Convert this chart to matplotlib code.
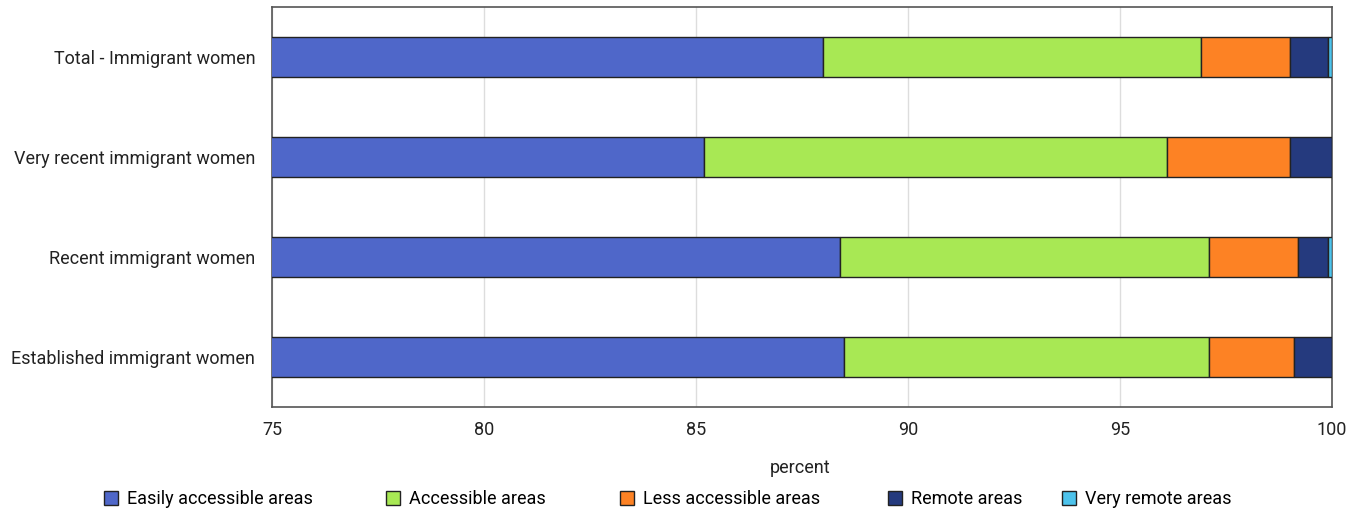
import matplotlib.pyplot as plt
import numpy as np

# --- DATA ---
categories = ["Total - Immigrant women", "Very recent immigrant women",
              "Recent immigrant women", "Established immigrant women"]
series_names = ["Easily accessible areas", "Accessible areas", "Less accessible areas",
                "Remote areas", "Very remote areas"]
easily = [88.0, 85.2, 88.4, 88.5]
accessible = [8.9, 10.9, 8.7, 8.6]
less_accessible = [2.1, 2.9, 2.1, 2.0]
remote = [0.9, 1.0, 0.7, 0.9]
very_remote = [0.1, 0.0, 0.1, 0.0]
x_ticks = [75, 80, 85, 90, 95, 100]

colors = ["#4f67c9", "#a8e854", "#fd8224", "#253a7e", "#4dc3ec"]
legend_x = [104, 386, 620, 888, 1062]          # pixel x of each legend marker

plt.rcParams['font.family'] = ['Roboto', 'DejaVu Sans']
fs = 13

fig = plt.figure(figsize=(13.61, 5.13), dpi=100)
ax = fig.add_axes([272 / 1361, 1 - 407 / 513, 1060 / 1361, 400 / 513])

y = np.arange(len(categories))
left = np.zeros(len(categories))
bars = []
for name, vals, col in zip(series_names, [easily, accessible, less_accessible, remote, very_remote], colors):
    b = ax.barh(y, vals, left=left, height=0.4, color=col, edgecolor="#222222",
                linewidth=1.0, label=name, zorder=3)
    bars.append(b)
    left += np.array(vals)

ax.set_xlim(75, 100)
ax.set_ylim(len(categories) - 0.5, -0.5)
ax.set_yticks(y)
ax.set_yticklabels(categories, fontsize=fs, color="#222222")
ax.set_xticks(x_ticks)
ax.set_xticklabels([str(t) for t in x_ticks], fontsize=fs, color="#222222")
ax.tick_params(axis='x', length=0, pad=10)
ax.tick_params(axis='y', length=0, pad=12)
ax.grid(axis='x', color="#dddddd", linewidth=1, zorder=0)
for s in ax.spines.values():
    s.set_color("#555555")
    s.set_linewidth(1.2)

fig.text(800 / 1361, 1 - 468 / 513, "percent", ha="center", va="center",
         fontsize=fs, color="#222222")

# legend entries placed one by one, as in the reference
for b, name, lx in zip(bars, series_names, legend_x):
    fig.legend([b], [name], loc="center left", bbox_to_anchor=(lx / 1361, 1 - 499 / 513),
               frameon=False, fontsize=fs, handlelength=0.8, handleheight=0.8,
               handletextpad=0.5, borderpad=0, borderaxespad=0)

fig.savefig("out.png", dpi=100)
